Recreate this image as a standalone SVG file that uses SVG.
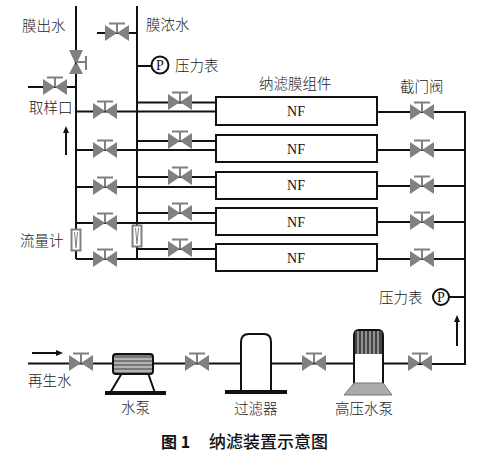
<svg xmlns="http://www.w3.org/2000/svg" width="489" height="455" viewBox="0 0 489 455">
<style>
.l{fill:none;stroke:#111;stroke-width:2}
.v{fill:#808080}
.vs{fill:none;stroke:#808080;stroke-width:2}
.t{font-family:"Noto Sans CJK SC","Liberation Serif",serif;font-size:14.500px;fill:#222;font-weight:300}
.nf{font-family:"Liberation Serif",serif;font-size:14px;fill:#111;text-anchor:middle}
.b{fill:#fff;stroke:#111;stroke-width:2}
</style>
<defs>
<g id="valve"><path class="v" d="M-12,-8L0,0L-12,8ZM12,-8L0,0L12,8Z"/><path class="vs" d="M0,0V-9M-8,-9.500H8"/></g>
<g id="fm"><rect x="-4.500" y="-10.500" width="9" height="21" fill="#fff" stroke="#808080" stroke-width="2"/><path d="M-1.500,-8L0,8L1.500,-8" fill="none" stroke="#808080" stroke-width="1"/></g>
</defs>
<g id="connectors">
<path class="l" d="M76,6V259M137,6V259M97,33H137M138,66H152M28,87H76"/>
<path class="l" d="M76,111.500H137M76,150H137M76,187H137M76,223H137M76,259H216"/>
<path class="l" d="M137,111.500H216M137,150H216M137,187H216M137,223H216"/>
<path class="l" d="M137,102.500H216M137,141H216M137,177H216M137,213H216M137,249H216"/>
<path class="l" d="M377,112H465M377,150H465M377,186H465M377,222H465M377,259H465M465,111V364H415"/>
<path class="l" d="M449,297H465"/>
<path class="l" d="M28,363.500H113M153,363.500H241M272,363.500H354M383,363.500H420"/>
<path class="l" d="M66,155V129" stroke-width="1.500"/><path d="M66,126L63,133H69Z" fill="#111"/>
<path class="l" d="M32,353H60"/><path d="M63,353L56,350V356Z" fill="#111"/>
<path class="l" d="M457,346V318"/><path d="M457,315L454,322H460Z" fill="#111"/>
</g>
<g id="valves">
<use href="#valve" x="117" y="33"/>
<g transform="translate(76,65)"><path class="v" d="M-7,-15L7,-15L0,0ZM-7,9L7,9L0,-4Z"/><path class="vs" d="M0,-3H10M10,-9V5"/></g>
<use href="#valve" x="55" y="87"/>
<use href="#valve" x="105" y="111"/><use href="#valve" x="105" y="150"/><use href="#valve" x="105" y="187"/><use href="#valve" x="105" y="223"/><use href="#valve" x="105" y="259"/>
<use href="#valve" x="180" y="102"/><use href="#valve" x="180" y="141"/><use href="#valve" x="180" y="177"/><use href="#valve" x="180" y="213"/><use href="#valve" x="180" y="249"/>
<use href="#valve" x="422" y="112"/><use href="#valve" x="422" y="150"/><use href="#valve" x="422" y="186"/><use href="#valve" x="422" y="222"/><use href="#valve" x="422" y="259"/>
<use href="#valve" x="81" y="363"/><use href="#valve" x="197" y="363"/><use href="#valve" x="314" y="363"/><use href="#valve" x="420" y="363"/>
<use href="#fm" x="76" y="240"/><use href="#fm" x="137" y="236"/>
</g>
<g id="gauge1"><circle class="b" cx="160" cy="65" r="8.500"/><text class="nf" x="160" y="70" font-size="13">P</text><text class="t" x="175" y="71">压力表</text></g>
<g id="gauge2"><circle class="b" cx="441" cy="297" r="8"/><text class="nf" x="441" y="302">P</text><text class="t" x="379" y="303">压力表</text></g>
<g id="nf1"><rect class="b" x="216" y="97" width="161" height="28"/><text class="nf" x="296" y="116">NF</text></g>
<g id="nf2"><rect class="b" x="216" y="135" width="161" height="27"/><text class="nf" x="296" y="154">NF</text></g>
<g id="nf3"><rect class="b" x="216" y="172" width="161" height="27"/><text class="nf" x="296" y="190">NF</text></g>
<g id="nf4"><rect class="b" x="216" y="208" width="161" height="27"/><text class="nf" x="296" y="227">NF</text></g>
<g id="nf5"><rect class="b" x="216" y="244" width="161" height="27"/><text class="nf" x="296" y="263">NF</text></g>
<g id="pump"><path class="l" d="M122,373L110,393M148,373L155,393"/><path d="M105,393H166" stroke="#111" stroke-width="4"/><rect x="113" y="354" width="40" height="20" rx="3" fill="#777" stroke="#111" stroke-width="2"/><path d="M114,359H152M114,363H152M114,367H152M114,371H152" stroke="#eee"/><text class="t" x="121" y="413">水泵</text></g>
<g id="filter"><path d="M241,392V342Q241,334 249,334H264Q271,334 271,342V392" fill="#fff" stroke="#111" stroke-width="2"/><path d="M225,392H287" stroke="#111" stroke-width="4"/><text class="t" x="234" y="414">过滤器</text></g>
<g id="hp"><path d="M354,385V336Q354,330 359,330H378Q383,330 383,336V385Z" fill="#fff" stroke="#111" stroke-width="2"/><rect x="355" y="331" width="27" height="23" fill="#444"/><path d="M358,331V354M362,331V354M366,331V354M370,331V354M374,331V354M378,331V354" stroke="#ddd"/><path d="M354,383H383L392,395H344Z" fill="#aaa" stroke="#777"/><text class="t" x="335" y="414">高压水泵</text></g>
<g id="labels">
<text class="t" x="22" y="31">膜出水</text><text class="t" x="146" y="30">膜浓水</text><text class="t" x="29" y="113">取样口</text><text class="t" x="20" y="246">流量计</text>
<text class="t" x="259" y="89">纳滤膜组件</text><text class="t" x="400" y="92">截门阀</text><text class="t" x="28" y="386">再生水</text>
<text x="161" y="448" style="font-family:'Noto Sans CJK SC',sans-serif;font-size:16px;font-weight:700;fill:#111">图 1</text>
<text x="209" y="448" style="font-family:'Noto Sans CJK SC',sans-serif;font-size:17px;font-weight:500;fill:#111">纳滤装置示意图</text>
</g>
</svg>
